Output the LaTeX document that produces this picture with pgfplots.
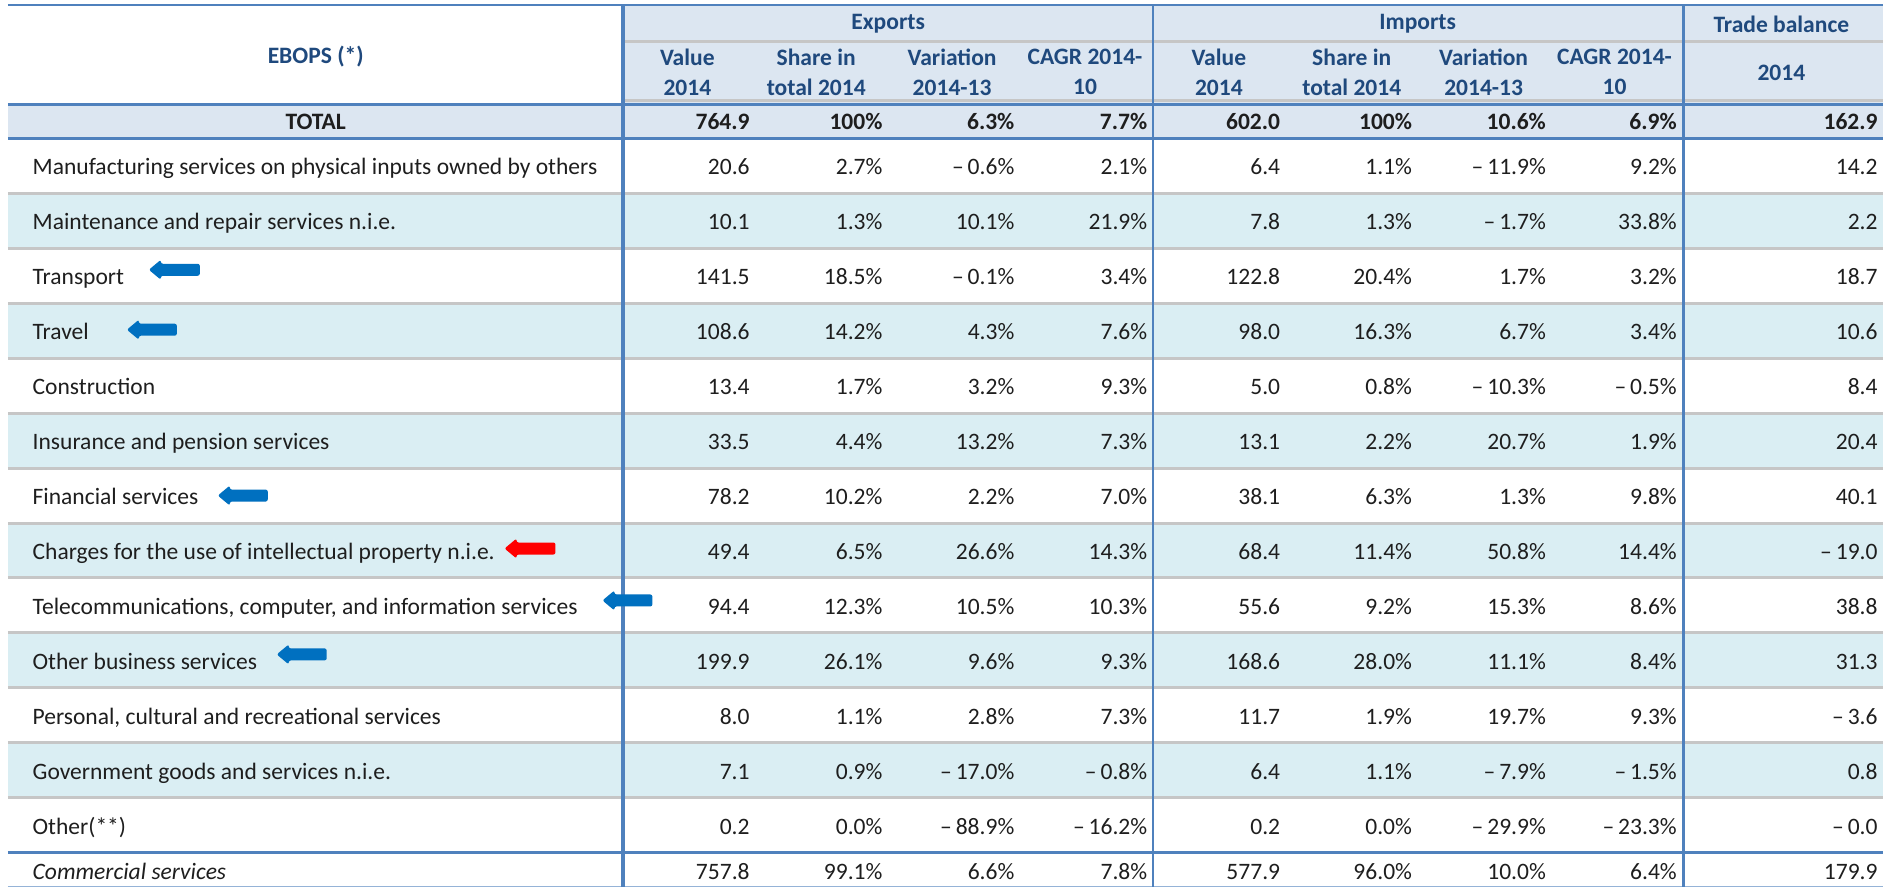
\documentclass[border=0pt]{standalone}
\usepackage{fontspec}
\setmainfont{Carlito}
\usepackage{pgfplots}
\usepackage{pgfplotstable}
\pgfplotsset{compat=1.18}

\definecolor{hdrbg}{HTML}{DCE6F1}
\definecolor{altbg}{HTML}{DAEEF3}
\definecolor{gridblue}{HTML}{4F81BD}
\definecolor{lightblue}{HTML}{95B3D7}
\definecolor{sepgray}{HTML}{C6C6C6}
\definecolor{hdrtext}{HTML}{1F497D}
\definecolor{txt}{HTML}{1E1E1E}
\definecolor{arrowblue}{HTML}{0070C0}
\definecolor{arrowred}{HTML}{FF0000}

\newcommand\cellfont{\fontsize{6.7}{8}\selectfont}
\newcommand\hdrfont{\fontsize{6.7}{8.5}\selectfont\bfseries}

% y = row centre (pixels from the top)
\pgfplotstableread[col sep=semicolon]{
y;label;ev;es;evar;ecagr;iv;is;ivar;icagr;tb
121;TOTAL;764.9;100\%;6.3\%;7.7\%;602.0;100\%;10.6\%;6.9\%;162.9
}\tabtotal

\pgfplotstableread[col sep=semicolon]{
y;label;ev;es;evar;ecagr;iv;is;ivar;icagr;tb
166;Manufacturing services on physical inputs owned by others;20.6;2.7\%;–\,0.6\%;2.1\%;6.4;1.1\%;–\,11.9\%;9.2\%;14.2
221;Maintenance and repair services n.i.e.;10.1;1.3\%;10.1\%;21.9\%;7.8;1.3\%;–\,1.7\%;33.8\%;2.2
276;Transport;141.5;18.5\%;–\,0.1\%;3.4\%;122.8;20.4\%;1.7\%;3.2\%;18.7
331;Travel;108.6;14.2\%;4.3\%;7.6\%;98.0;16.3\%;6.7\%;3.4\%;10.6
386;Construction;13.4;1.7\%;3.2\%;9.3\%;5.0;0.8\%;–\,10.3\%;–\,0.5\%;8.4
441;Insurance and pension services;33.5;4.4\%;13.2\%;7.3\%;13.1;2.2\%;20.7\%;1.9\%;20.4
496;Financial services;78.2;10.2\%;2.2\%;7.0\%;38.1;6.3\%;1.3\%;9.8\%;40.1
551;Charges for the use of intellectual property n.i.e.;49.4;6.5\%;26.6\%;14.3\%;68.4;11.4\%;50.8\%;14.4\%;–\,19.0
606;Telecommunications, computer, and information services;94.4;12.3\%;10.5\%;10.3\%;55.6;9.2\%;15.3\%;8.6\%;38.8
661;Other business services;199.9;26.1\%;9.6\%;9.3\%;168.6;28.0\%;11.1\%;8.4\%;31.3
716;Personal, cultural and recreational services;8.0;1.1\%;2.8\%;7.3\%;11.7;1.9\%;19.7\%;9.3\%;–\,3.6
771;Government goods and services n.i.e.;7.1;0.9\%;–\,17.0\%;–\,0.8\%;6.4;1.1\%;–\,7.9\%;–\,1.5\%;0.8
826;Other(**);0.2;0.0\%;–\,88.9\%;–\,16.2\%;0.2;0.0\%;–\,29.9\%;–\,23.3\%;–\,0.0
}\tabbody

\pgfplotstableread[col sep=semicolon]{
y;label;ev;es;evar;ecagr;iv;is;ivar;icagr;tb
871;Commercial services;757.8;99.1\%;6.6\%;7.8\%;577.9;96.0\%;10.0\%;6.4\%;179.9
}\tabcomm

\pgfplotsset{
  cell/.style={only marks, mark=none, point meta=explicit symbolic,
    nodes near coords,
    every node near coord/.append style={anchor=east, inner sep=0pt,
      text=txt, font=\cellfont, text height=1.3ex, text depth=0.25ex}},
}

% all value columns of one table
\newcommand\valuecols[2]{%
  \addplot[cell,#2] table[x expr=751, y=y, meta=ev]{#1};
  \addplot[cell,#2] table[x expr=884, y=y, meta=es]{#1};
  \addplot[cell,#2] table[x expr=1016,y=y, meta=evar]{#1};
  \addplot[cell,#2] table[x expr=1149,y=y, meta=ecagr]{#1};
  \addplot[cell,#2] table[x expr=1282,y=y, meta=iv]{#1};
  \addplot[cell,#2] table[x expr=1414,y=y, meta=is]{#1};
  \addplot[cell,#2] table[x expr=1548,y=y, meta=ivar]{#1};
  \addplot[cell,#2] table[x expr=1679,y=y, meta=icagr]{#1};
  \addplot[cell,#2] table[x expr=1880,y=y, meta=tb]{#1};
}

% left-pointing block arrow: tip x, head x, tail x, y-10, y-6, y, y+6, y+10, colour
\newcommand\larrow[9]{%
  \fill[#9, rounded corners=0.6pt] (#1,#6) -- (#2,#4) -- (#2,#5)
    -- (#3,#5) -- (#3,#7) -- (#2,#7) -- (#2,#8) -- cycle;
}

\begin{document}
\begin{tikzpicture}
\begin{axis}[
  width=188.5mm, height=88.9mm, scale only axis,
  xmin=0, xmax=1885, ymin=0, ymax=889, y dir=reverse,
  hide axis, clip=false,
]
% backgrounds
\fill[white] (0,0) rectangle (1885,889);
\fill[hdrbg] (624,6) rectangle (1885,104);
\fill[hdrbg] (8,104) rectangle (1885,138.5);
\fill[altbg] (8,193.5) rectangle (1885,248.5);
\fill[altbg] (8,303.5) rectangle (1885,358.5);
\fill[altbg] (8,413.5) rectangle (1885,468.5);
\fill[altbg] (8,523.5) rectangle (1885,578.5);
\fill[altbg] (8,633.5) rectangle (1885,688.5);
\fill[altbg] (8,743.5) rectangle (1885,798.5);
% horizontal rules
\draw[gridblue, line width=0.2mm] (8,5) -- (1885,5);
\draw[sepgray, line width=0.3mm] (624,42) -- (1885,42);
\draw[sepgray, line width=0.3mm] (624,101) -- (1885,101);
\draw[gridblue, line width=0.35mm] (8,104.5) -- (1885,104.5);
\draw[gridblue, line width=0.35mm] (8,138.5) -- (1885,138.5);
\draw[sepgray, line width=0.3mm] (8,193.5) -- (1885,193.5);
\draw[sepgray, line width=0.3mm] (8,248.5) -- (1885,248.5);
\draw[sepgray, line width=0.3mm] (8,303.5) -- (1885,303.5);
\draw[sepgray, line width=0.3mm] (8,358.5) -- (1885,358.5);
\draw[sepgray, line width=0.3mm] (8,413.5) -- (1885,413.5);
\draw[sepgray, line width=0.3mm] (8,468.5) -- (1885,468.5);
\draw[sepgray, line width=0.3mm] (8,523.5) -- (1885,523.5);
\draw[sepgray, line width=0.3mm] (8,578.5) -- (1885,578.5);
\draw[sepgray, line width=0.3mm] (8,633.5) -- (1885,633.5);
\draw[sepgray, line width=0.3mm] (8,688.5) -- (1885,688.5);
\draw[sepgray, line width=0.3mm] (8,743.5) -- (1885,743.5);
\draw[sepgray, line width=0.3mm] (8,798.5) -- (1885,798.5);
\draw[gridblue, line width=0.35mm] (8,853.5) -- (1885,853.5);
\draw[lightblue, line width=0.15mm] (8,887.5) -- (1885,887.5);
% vertical rules
\draw[gridblue, line width=0.4mm] (623.5,5) -- (623.5,888);
\draw[gridblue, line width=0.25mm] (1154,5) -- (1154,888);
\draw[gridblue, line width=0.35mm] (1685,5) -- (1685,888);

% header text
\node[text=hdrtext, font=\hdrfont, align=center, inner sep=0pt] at (316,57) {EBOPS (*)};
\node[text=hdrtext, font=\hdrfont, align=center, inner sep=0pt] at (889,24) {Exports};
\node[text=hdrtext, font=\hdrfont, align=center, inner sep=0pt] at (1419,24) {Imports};
\node[text=hdrtext, font=\hdrfont, align=center, inner sep=0pt] at (1783,24) {Trade balance};
\node[text=hdrtext, font=\hdrfont, align=center, inner sep=0pt] at (1783,73) {2014};
\node[text=hdrtext, font=\hdrfont, align=center, inner sep=0pt] at (688,72)  {Value\\2014};
\node[text=hdrtext, font=\hdrfont, align=center, inner sep=0pt] at (817,72)  {Share in\\total 2014};
\node[text=hdrtext, font=\hdrfont, align=center, inner sep=0pt] at (953,72)  {Variation\\2014-13};
\node[text=hdrtext, font=\hdrfont, align=center, inner sep=0pt] at (1086,72) {CAGR 2014-\\10};
\node[text=hdrtext, font=\hdrfont, align=center, inner sep=0pt] at (1220,72) {Value\\2014};
\node[text=hdrtext, font=\hdrfont, align=center, inner sep=0pt] at (1353,72) {Share in\\total 2014};
\node[text=hdrtext, font=\hdrfont, align=center, inner sep=0pt] at (1485,72) {Variation\\2014-13};
\node[text=hdrtext, font=\hdrfont, align=center, inner sep=0pt] at (1616,72) {CAGR 2014-\\10};

% row labels
\addplot[cell, every node near coord/.append style={anchor=center, font=\cellfont\bfseries}]
  table[x expr=316, y=y, meta=label]{\tabtotal};
\addplot[cell, every node near coord/.append style={anchor=west}]
  table[x expr=32, y=y, meta=label]{\tabbody};
\addplot[cell, every node near coord/.append style={anchor=west, font=\cellfont\itshape}]
  table[x expr=32, y=y, meta=label]{\tabcomm};

% values
\valuecols{\tabtotal}{every node near coord/.append style={font=\cellfont\bfseries}}
\valuecols{\tabbody}{}
\valuecols{\tabcomm}{}

% arrows
\larrow{149}{161}{200}{260}{264}{270}{276}{280}{arrowblue}
\larrow{127}{139}{177}{320}{324}{330}{336}{340}{arrowblue}
\larrow{218}{230}{268}{486}{490}{496}{502}{506}{arrowblue}
\larrow{505}{517}{556}{539}{543}{549}{555}{559}{arrowred}
\larrow{603}{615}{653}{591}{595}{601}{607}{611}{arrowblue}
\larrow{277}{289}{327}{645}{649}{655}{661}{665}{arrowblue}
\end{axis}
\end{tikzpicture}
\end{document}
